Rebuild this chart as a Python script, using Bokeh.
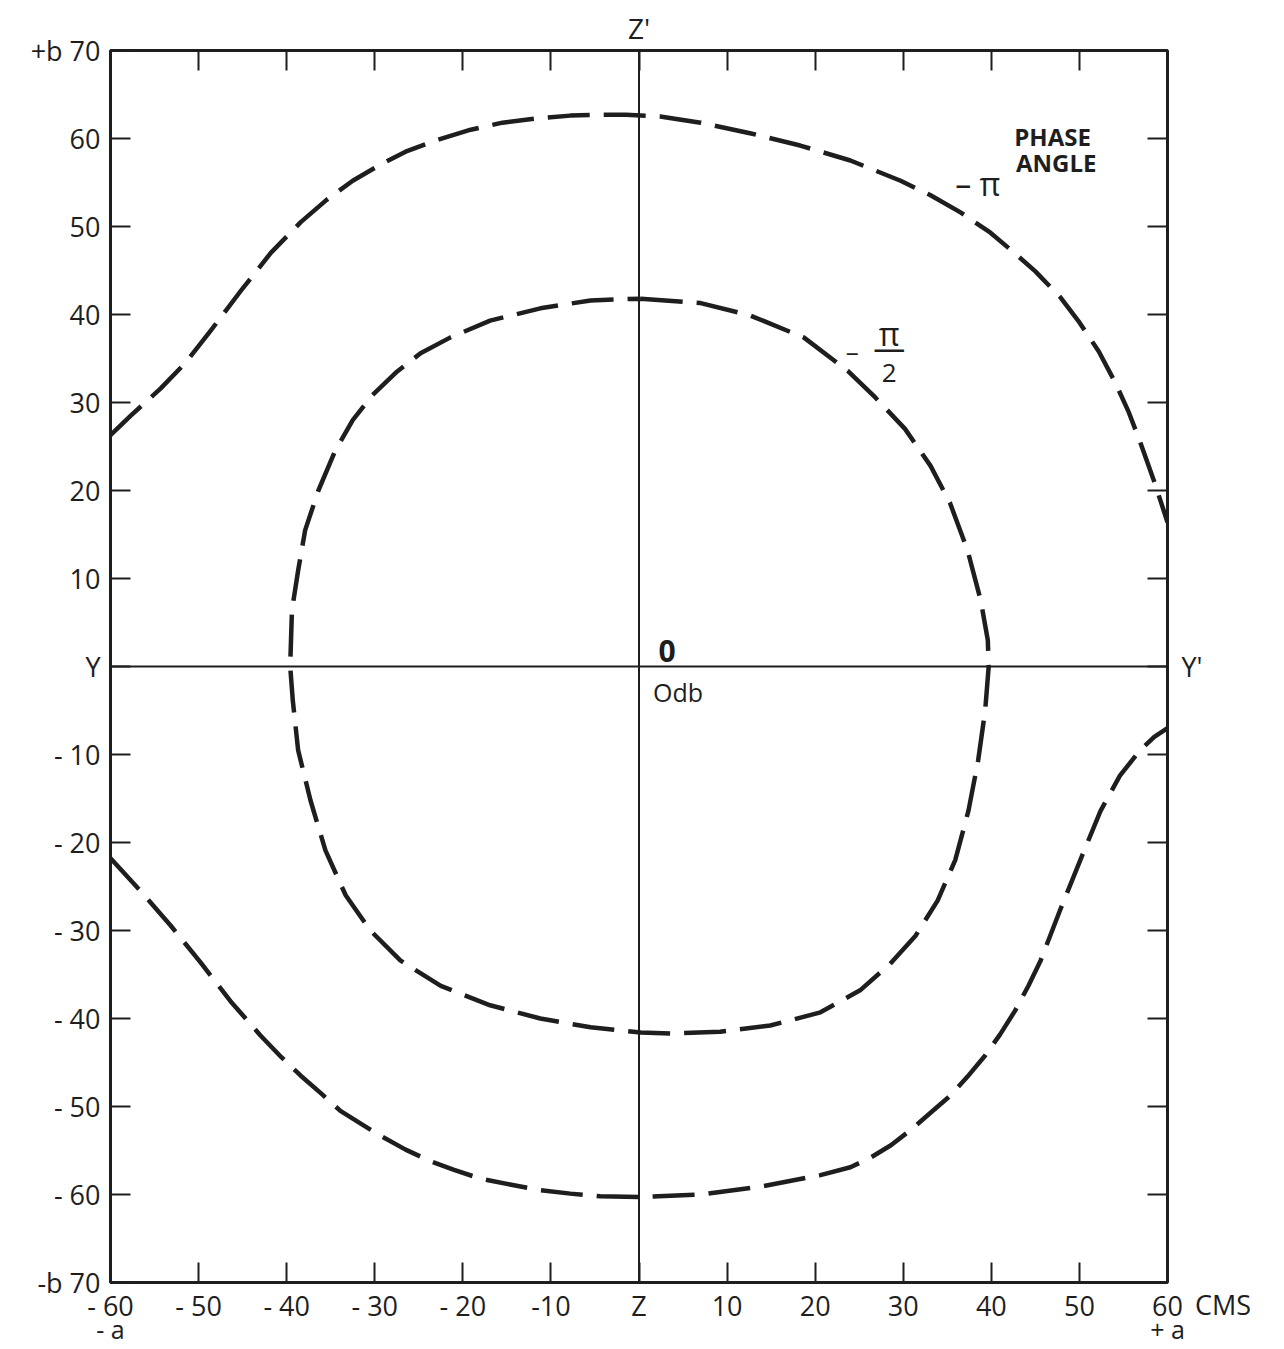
from bokeh.plotting import figure
from bokeh.models import FixedTicker, LinearAxis, Span, Label, Range1d
from bokeh.embed import file_html
from bokeh.resources import INLINE

# ---- data ----
outer_top_x = [-60, -57.7, -54.3, -51.5, -48.6, -45.2, -41.8, -38.4, -35.5, -32.5, -29.4, -26.5,
               -23.0, -19.1, -15.5, -11.5, -7.8, -4.5, -1.5, 2.4, 7.0, 12.6, 18.3, 24.0, 29.7,
               33.0, 36.5, 39.9, 42.5, 45.0, 47.8, 50.0, 52.2, 54.1, 55.6, 56.9, 58.5, 60]
outer_top_y = [26.3, 28.5, 31.6, 34.5, 38.2, 42.7, 47.0, 50.5, 53.0, 55.2, 57.0, 58.5,
               59.8, 61.0, 61.8, 62.3, 62.6, 62.7, 62.7, 62.5, 61.8, 60.6, 59.2, 57.5, 55.2,
               53.6, 51.6, 49.3, 47.1, 44.9, 42.0, 39.1, 35.8, 32.2, 28.9, 25.5, 21.0, 16.4]

inner_x = [0.2, 7.0, 12.6, 18.7, 23.7, 26.8, 30.2, 33.1, 35.3, 37.3, 38.8, 39.6, 39.7, 39.3,
           38.5, 37.4, 35.9, 33.9, 31.4, 28.5, 25.1, 20.6, 14.9, 9.2, 3.6, 0.2, -5.5, -11.2,
           -16.9, -22.5, -27.1, -30.5, -33.3, -35.6, -37.3, -38.7, -39.3, -39.6, -39.4, -38.7,
           -37.9, -36.4, -34.5, -32.5, -30.3, -27.6, -24.8, -21.4, -16.9, -11.2, -5.5, 0.2]
inner_y = [41.8, 41.3, 39.9, 37.4, 33.6, 30.6, 27.0, 22.8, 18.6, 13.2, 7.5, 3.0, 0.0, -5.0,
           -10.7, -16.4, -22.0, -26.6, -30.6, -33.8, -36.8, -39.3, -40.8, -41.5, -41.7, -41.6, -41.0, -40.0,
           -38.5, -36.3, -33.4, -30.0, -26.0, -20.9, -15.2, -9.5, -3.9, 0.0, 6.4, 10.9,
           15.5, 20.0, 24.5, 28.0, 30.8, 33.4, 35.6, 37.4, 39.3, 40.7, 41.6, 41.8]

outer_bot_x = [-60, -56.6, -53.2, -49.8, -46.4, -43.0, -40.6, -38.4, -36.0, -33.9, -31.5, -29.4,
               -26.5, -23.7, -21.0, -18.0, -14.5, -11.2, -7.8, -4.4, 0.2, 7.0, 13.8, 20.6, 24.0,
               26.3, 28.6, 30.8, 33.0, 35.3, 37.3, 39.3, 41.0, 42.7, 44.2, 45.6, 47.8, 50.1, 52.4,
               54.6, 56.9, 58.5, 60]
outer_bot_y = [-21.8, -25.5, -29.4, -33.6, -38.0, -41.9, -44.4, -46.5, -48.6, -50.5, -52.0, -53.3,
               -54.9, -56.2, -57.2, -58.2, -58.9, -59.5, -59.9, -60.2, -60.3, -60.0, -59.1, -57.8,
               -56.9, -55.8, -54.4, -52.7, -50.8, -48.8, -46.6, -44.2, -41.8, -39.1, -36.3, -33.4,
               -27.7, -22.0, -16.4, -12.4, -9.5, -8.0, -7.0]

y_ticks = [-70, -60, -50, -40, -30, -20, -10, 0, 10, 20, 30, 40, 50, 60, 70]
y_tick_labels = ["-b 70", "- 60", "- 50", "- 40", "- 30", "- 20", "- 10", "Y",
                 "10", "20", "30", "40", "50", "60", "+b 70"]
x_ticks = [-60, -50, -40, -30, -20, -10, 0, 10, 20, 30, 40, 50, 60]
x_tick_labels = ["- 60", "- 50", "- 40", "- 30", "- 20", "-10", "Z",
                 "10", "20", "30", "40", "50", "60"]
x_end_ticks = [-60, 60]
x_end_labels = ["- a", "+ a"]
right_ticks = [-70, 0]
right_labels = ["\n\u2002CMS", "Y'"]

FONT = "Open Sans"
INK = "#1e1e1e"

p = figure(frame_width=1057, frame_height=1232, output_backend="svg", toolbar_location=None,
           x_range=Range1d(-60, 60), y_range=Range1d(-70, 70),
           x_axis_location=None, y_axis_location=None,
           min_border_left=110, min_border_right=103, min_border_top=50, min_border_bottom=60)
p.xgrid.visible = False
p.ygrid.visible = False
p.outline_line_color = INK
p.outline_line_width = 3
p.background_fill_color = "white"
p.border_fill_color = "white"


def make_axis(ticks, labels=None, tick_len=20, size="26px"):
    ax = LinearAxis(ticker=FixedTicker(ticks=ticks))
    ax.axis_line_color = None
    ax.major_tick_in = tick_len
    ax.major_tick_out = 0
    ax.major_tick_line_color = INK if tick_len else None
    ax.major_tick_line_width = 2
    ax.minor_tick_line_color = None
    if labels is None:
        ax.major_label_text_font_size = "0px"
        ax.major_label_text_color = None
    else:
        ax.major_label_overrides = {t: l for t, l in zip(ticks, labels)}
        ax.major_label_text_font = FONT
        ax.major_label_text_font_size = size
        ax.major_label_text_color = INK
    return ax


left = make_axis(y_ticks, y_tick_labels, size="27px")
left.major_label_standoff = 10
p.add_layout(left, "left")

right_ticks_ax = make_axis(y_ticks[1:-1])
p.add_layout(right_ticks_ax, "right")

bottom = make_axis(x_ticks, x_tick_labels, size="27px")
bottom.major_label_standoff = 4
p.add_layout(bottom, "below")
bottom2 = make_axis(x_end_ticks, x_end_labels, tick_len=0, size="25px")
bottom2.major_label_standoff = -15
p.add_layout(bottom2, "below")

top = make_axis(x_ticks[1:-1])
top.axis_label = "Z'"
top.axis_label_text_font = FONT
top.axis_label_text_font_size = "28px"
top.axis_label_text_font_style = "normal"
top.axis_label_text_color = INK
top.axis_label_standoff = 4
p.add_layout(top, "above")

# text column to the right of the frame (Y' and CMS)
right_lab = make_axis(right_ticks, right_labels, tick_len=0, size="27px")
right_lab.major_label_standoff = 14
p.add_layout(right_lab, "right")

# reference axes Y-Y' and Z-Z'
p.add_layout(Span(location=0, dimension="width", line_color=INK, line_width=2))
p.add_layout(Span(location=0, dimension="height", line_color=INK, line_width=2))

# curves
for xs, ys in [(outer_top_x, outer_top_y), (inner_x, inner_y), (outer_bot_x, outer_bot_y)]:
    p.line(xs, ys, line_color=INK, line_width=4.5, line_dash="42 14", line_cap="butt",
           line_join="round")


def lab(x, y, text, size="26px", align="left", baseline="middle", style="normal"):
    p.add_layout(Label(x=x, y=y, text=text, text_font=FONT, text_font_size=size,
                       text_color=INK, text_align=align, text_baseline=baseline,
                       text_font_style=style))


lab(42.6, 60.2, "PHASE", size="24px", style="bold")
lab(42.8, 57.3, "ANGLE", size="24px", style="bold")
lab(35.9, 54.9, "\u2013 \u03c0", size="32px")
lab(24.2, 35.9, "\u2013", size="26px", align="center")
lab(28.4, 37.8, "\u03c0", size="32px", align="center")
lab(28.4, 36.2, "\u2015", size="32px", align="center")
lab(28.4, 33.4, "2", size="26px", align="center")
lab(3.2, 1.8, "0", size="30px", align="center", style="bold")
lab(1.6, -2.9, "Odb", size="25px")

open("out.html", "w").write(file_html(p, INLINE))
